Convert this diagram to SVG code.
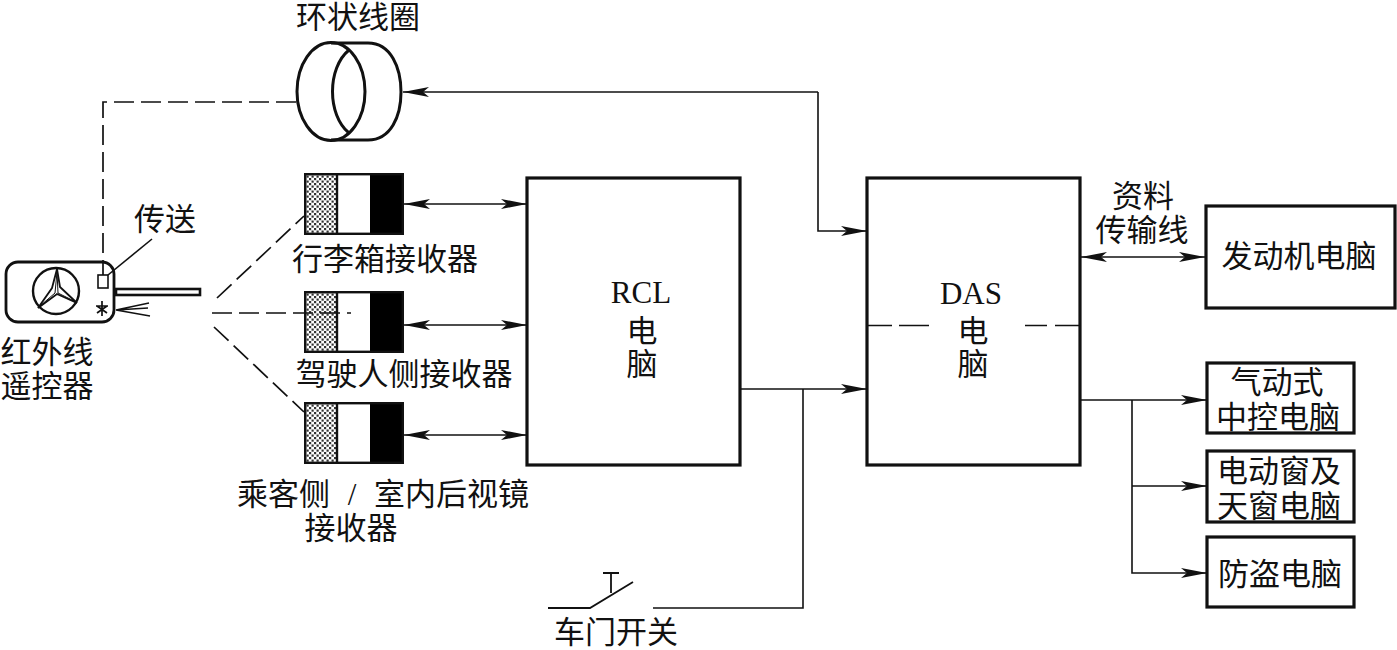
<svg xmlns="http://www.w3.org/2000/svg" width="1397" height="650" viewBox="0 0 1397 650">
<style>
text{font-family:"Liberation Serif","Noto Sans CJK SC",serif;fill:#111;font-size:31px;text-anchor:middle;font-weight:400}
.box{fill:#fff;stroke:#111;stroke-width:3.2}
.ln{fill:none;stroke:#111;stroke-width:1.6}
.dash{fill:none;stroke:#111;stroke-width:1.7;stroke-dasharray:20 7}
.th{fill:none;stroke:#111;stroke-width:3}
</style>
<defs>
<pattern id="dots" width="5" height="5" patternUnits="userSpaceOnUse"><rect width="5" height="5" fill="#fff"/><rect width="2.200" height="2.200" fill="#333"/><rect x="2.500" y="2.500" width="2.200" height="2.200" fill="#333"/></pattern>
<marker id="a" viewBox="0 0 26 10" refX="26" refY="5" markerWidth="26" markerHeight="10" markerUnits="userSpaceOnUse" orient="auto-start-reverse"><path d="M0 0L26 5L0 10L6 5Z" fill="#111"/></marker>
<g id="recv"><rect x="0" y="0" width="34" height="62" fill="url(#dots)"/><rect x="34" y="0" width="33" height="62" fill="#fff"/><rect x="66" y="0" width="34" height="62" fill="#000"/><rect x="1.200" y="1.200" width="97.600" height="59.600" fill="none" stroke="#111" stroke-width="2.400"/><path d="M33 0V62" stroke="#111" stroke-width="2.400"/></g>
</defs>
<rect width="1397" height="650" fill="#fff"/>
<g id="coil">
<path class="th" d="M331 43H368C391 43 401 68 401 92C401 116 391 140 368 140H331"/>
<ellipse class="th" cx="331" cy="91.500" rx="34" ry="49"/>
<path class="th" d="M349 50C327 68 327 115 349 133"/>
<text x="358" y="28">环状线圈</text>
</g>
<g id="remote">
<rect x="6" y="262" width="108" height="60" rx="12" fill="#fff" stroke="#111" stroke-width="2.800"/>
<circle cx="56" cy="291" r="23" fill="none" stroke="#111" stroke-width="2.400"/>
<path d="M57 269L60 287L77 303L57 294L38 308L52 288Z" fill="#fff" stroke="#111" stroke-width="1.800"/>
<path d="M57 272L55 293L40 306M57 272L58 293L74 301" fill="none" stroke="#111" stroke-width="1"/>
<rect x="98" y="275" width="10" height="13" fill="#fff" stroke="#111" stroke-width="1.600"/>
<path d="M102 301V316M96 306H108M97 306L107 313M107 306L97 313" fill="none" stroke="#111" stroke-width="1.700"/>
<rect x="116" y="289" width="84" height="6" fill="#fff" stroke="#111" stroke-width="2.600"/>
<path class="ln" d="M116 310L149 303M116 310L148 308M116 310L150 316"/>
<text x="165" y="230">传送</text>
<text x="47" y="363">红外线</text>
<text x="47" y="397">遥控器</text>
</g>
<g id="receiver-trunk"><use href="#recv" x="304" y="173"/><text x="385" y="270">行李箱接收器</text></g>
<g id="receiver-driver"><use href="#recv" x="304" y="291"/><text x="404" y="385">驾驶人侧接收器</text></g>
<g id="receiver-pass"><use href="#recv" x="304" y="402"/><text x="383" y="505" word-spacing="10">乘客侧 / 室内后视镜</text><text x="351" y="539">接收器</text></g>
<g id="rcl"><rect class="box" x="527" y="178" width="213" height="287"/><text x="641" y="303">RCL</text><text x="642" y="342">电</text><text x="642" y="375">脑</text></g>
<g id="das"><rect class="box" x="867" y="178" width="213" height="287"/><text x="971" y="304">DAS</text><text x="973" y="342">电</text><text x="973" y="375">脑</text></g>
<g id="data-line-label"><text x="1143" y="207">资料</text><text x="1142" y="241">传输线</text></g>
<g id="engine"><rect class="box" x="1206" y="206" width="189" height="102"/><text x="1299" y="267">发动机电脑</text></g>
<g id="lock"><rect class="box" x="1207" y="363" width="147" height="70"/><text x="1277" y="393">气动式</text><text x="1278" y="428">中控电脑</text></g>
<g id="window"><rect class="box" x="1207" y="451" width="147" height="71"/><text x="1279" y="482">电动窗及</text><text x="1279" y="517">天窗电脑</text></g>
<g id="alarm"><rect class="box" x="1207" y="537" width="147" height="70"/><text x="1280" y="585">防盗电脑</text></g>
<g id="door-switch">
<path d="M548 608H590L633 582M611 593V573M603 573H619" fill="none" stroke="#111" stroke-width="1.800"/>
<text x="616" y="643">车门开关</text>
</g>
<g id="connectors">
<path class="dash" d="M296 102H103V275"/>
<path class="ln" d="M818 92H403" marker-end="url(#a)"/>
<path class="ln" d="M818 92V231H867" marker-end="url(#a)"/>
<path class="ln" d="M404 204H527" marker-start="url(#a)" marker-end="url(#a)"/>
<path class="ln" d="M404 325H527" marker-start="url(#a)" marker-end="url(#a)"/>
<path class="ln" d="M404 435H527" marker-start="url(#a)" marker-end="url(#a)"/>
<path class="ln" d="M740 389H867" marker-end="url(#a)"/>
<path class="ln" d="M803 389V608H653"/>
<path class="ln" d="M1081 257H1205" marker-start="url(#a)" marker-end="url(#a)"/>
<path class="ln" d="M1081 400H1207" marker-end="url(#a)"/>
<path class="ln" d="M1132 400V573H1207" marker-end="url(#a)"/>
<path class="ln" d="M1132 486H1207" marker-end="url(#a)"/>
<path class="dash" d="M217 298L304 216"/>
<path class="dash" d="M212 313H351"/>
<path class="dash" d="M214 327L304 412"/>
<path class="ln" d="M108 275L152 239"/>
<path class="ln" d="M868 325.500H892M899 325.500H929M1025 325.500H1047M1055 325.500H1079"/>
</g>
</svg>
